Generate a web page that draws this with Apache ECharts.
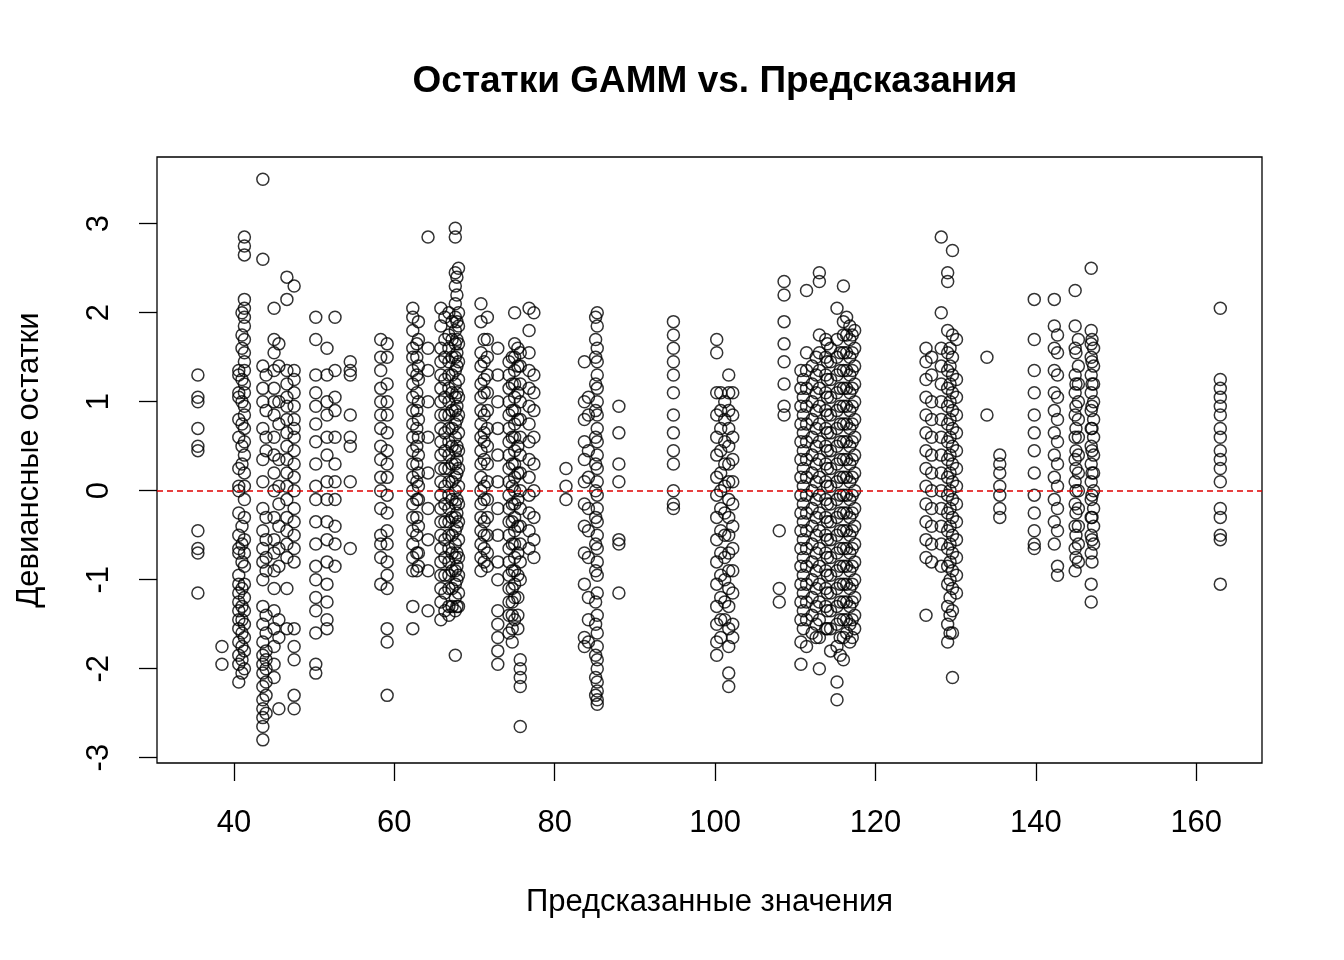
<!DOCTYPE html>
<html><head><meta charset="utf-8">
<script src="https://cdn.jsdelivr.net/npm/echarts@6/dist/echarts.min.js"></script>
<style>html,body{margin:0;padding:0;background:#fff}#c{width:1344px;height:960px}</style>
</head><body><div id="c"></div>
<script>
const titleText = 'Остатки GAMM vs. Предсказания';
const xName = 'Предсказанные значения';
const yName = 'Девиансные остатки';
const xTicks = [40, 60, 80, 100, 120, 140, 160];
const yTicks = [-3, -2, -1, 0, 1, 2, 3];
// fitted value of each column of points
const colX = [35.5, 38.5, 40.6, 41.3, 43.6, 45.0, 45.6, 46.6, 47.5, 50.2, 51.6, 52.6, 54.5, 58.3, 59.1, 62.3, 62.8, 64.2, 65.8, 66.8, 67.6, 68.0,
  70.8, 71.6, 72.9, 74.3, 75.0, 75.7, 76.8, 77.4, 81.4, 83.7, 84.2, 85.3, 88.0, 94.8, 100.2, 100.7, 101.7, 102.2,
  108.0, 108.6, 110.7, 111.4, 112.1, 113.0, 113.8, 114.4, 115.2, 116.0, 116.8, 117.4,
  126.3, 127.0, 128.2, 129.0, 129.6, 130.1, 133.9, 135.5, 139.8, 142.3, 142.7, 144.9, 145.3, 146.9, 147.2, 163.0,
  41.0, 44.0, 63.0, 66.3, 67.2, 67.8, 71.2, 74.7, 75.4, 85.1, 101.2, 111.0, 112.6, 114.0, 115.6, 116.4, 117.1, 129.3, 145.0, 147.0];
// residuals in each column
const colY = [
  [1.3, 1.05, 1.0, 0.7, 0.5, 0.45, -0.45, -0.65, -0.7, -1.15],
  [-1.75, -1.95],
  [1.35, 1.3, 1.1, 1.05, 0.8, 0.6, 0.25, 0.05, 0.0, -0.25, -0.5, -0.65, -0.7, -0.95, -1.05, -1.15, -1.25, -1.35, -1.45, -1.55, -1.7, -1.85, -1.95, -2.15],
  [2.85, 2.75, 2.65, 2.15, 2.05, 1.95, 1.85, 1.7, 1.55, 1.45, 1.35, 1.2, 1.1, 0.95, 0.85, 0.7, 0.55, 0.4, 0.2, 0.05, -0.1, -0.3, -0.55, -0.7, -0.85, -1.05, -1.2, -1.35, -1.5, -1.65, -1.8, -2.0],
  [3.5, 2.6, 1.4, 1.15, 1.0, 0.7, 0.35, 0.1, -0.2, -0.45, -0.65, -0.8, -1.0, -1.3, -1.5, -1.7, -1.85, -1.95, -2.05, -2.2, -2.35, -2.45, -2.55, -2.65, -2.8],
  [2.05, 1.7, 1.55, 1.35, 1.15, 1.0, 0.85, 0.6, 0.4, 0.2, 0.0, -0.3, -0.55, -0.7, -0.9, -1.1, -1.35, -1.55, -1.75, -1.95, -2.1],
  [1.65, 1.4, 1.0, 0.75, 0.35, 0.05, -0.15, -0.4, -0.65, -0.85, -1.45, -1.65, -2.45],
  [2.4, 2.15, 1.35, 1.2, 1.05, 0.95, 0.8, 0.65, 0.5, 0.35, 0.2, 0.05, -0.1, -0.3, -0.45, -0.6, -0.75, -1.1, -1.55],
  [2.3, 1.35, 1.25, 1.1, 0.95, 0.8, 0.7, 0.6, 0.45, 0.3, 0.15, 0.0, -0.2, -0.35, -0.5, -0.65, -0.8, -1.55, -1.75, -1.9, -2.3, -2.45],
  [1.95, 1.7, 1.3, 1.1, 0.95, 0.75, 0.55, 0.3, 0.05, -0.1, -0.35, -0.6, -0.85, -1.0, -1.2, -1.35, -1.6, -1.95, -2.05],
  [1.6, 1.3, 1.0, 0.85, 0.6, 0.4, 0.1, -0.1, -0.35, -0.55, -0.8, -1.05, -1.25, -1.45, -1.55],
  [1.95, 1.35, 1.05, 0.9, 0.6, 0.3, 0.1, -0.1, -0.4, -0.6, -0.85],
  [1.45, 1.35, 1.3, 0.85, 0.6, 0.5, 0.1, -0.65],
  [1.7, 1.5, 1.35, 1.15, 1.0, 0.85, 0.7, 0.5, 0.35, 0.15, 0.0, -0.2, -0.5, -0.6, -0.75, -1.05],
  [1.65, 1.5, 1.2, 1.0, 0.85, 0.65, 0.45, 0.3, 0.15, -0.05, -0.25, -0.45, -0.6, -0.8, -0.95, -1.1, -1.55, -1.7, -2.3],
  [2.05, 1.95, 1.8, 1.6, 1.5, 1.35, 1.2, 1.05, 0.9, 0.75, 0.6, 0.45, 0.3, 0.15, 0.0, -0.15, -0.3, -0.45, -0.6, -0.75, -0.9, -1.3, -1.55],
  [1.65, 1.5, 1.3, 1.1, 0.9, 0.7, 0.5, 0.3, 0.1, -0.1, -0.3, -0.5, -0.7, -0.9],
  [2.85, 1.6, 1.35, 1.0, 0.6, 0.2, -0.2, -0.55, -0.9, -1.35],
  [2.05, 1.85, 1.6, 1.45, 1.3, 1.15, 1.0, 0.85, 0.7, 0.55, 0.4, 0.25, 0.1, -0.05, -0.2, -0.35, -0.5, -0.65, -0.8, -0.95, -1.1, -1.25, -1.45],
  [2.0, 1.75, 1.6, 1.45, 1.3, 1.15, 1.0, 0.85, 0.7, 0.55, 0.4, 0.25, 0.1, -0.05, -0.2, -0.35, -0.5, -0.65, -0.8, -0.95, -1.1, -1.3, -1.4],
  [2.95, 2.85, 2.45, 2.3, 2.1, 1.95, 1.8, 1.65, 1.5, 1.35, 1.2, 1.05, 0.9, 0.75, 0.6, 0.45, 0.3, 0.15, 0.0, -0.15, -0.3, -0.45, -0.6, -0.75, -0.9, -1.05, -1.2, -1.35, -1.85],
  [2.5, 2.0, 1.85, 1.65, 1.45, 1.25, 1.05, 0.85, 0.65, 0.45, 0.25, 0.05, -0.15, -0.35, -0.55, -0.75, -0.95, -1.15, -1.3],
  [2.1, 1.9, 1.55, 1.4, 1.2, 1.05, 0.9, 0.75, 0.6, 0.45, 0.3, 0.15, 0.0, -0.15, -0.3, -0.45, -0.6, -0.75, -0.9],
  [1.95, 1.7, 1.5, 1.3, 1.1, 0.9, 0.7, 0.5, 0.3, 0.1, -0.1, -0.3, -0.5, -0.7, -0.85],
  [1.6, 1.3, 1.0, 0.7, 0.4, 0.1, -0.2, -0.5, -0.8, -1.0, -1.35, -1.5, -1.65, -1.8, -1.95],
  [1.45, 1.3, 1.15, 1.0, 0.85, 0.7, 0.55, 0.4, 0.25, 0.1, -0.05, -0.2, -0.35, -0.5, -0.65, -0.8, -0.95, -1.1, -1.25, -1.4, -1.6],
  [2.0, 1.65, 1.5, 1.35, 1.2, 1.05, 0.9, 0.75, 0.6, 0.45, 0.3, 0.15, 0.0, -0.15, -0.3, -0.45, -0.6, -0.75, -0.9, -1.05, -1.2, -1.45],
  [1.55, 1.4, 1.2, 1.0, 0.8, 0.6, 0.4, 0.2, 0.0, -0.2, -0.4, -0.6, -0.8, -1.0, -1.9, -2.0, -2.1, -2.2, -2.65],
  [2.05, 1.8, 1.55, 1.35, 1.15, 0.95, 0.75, 0.55, 0.35, 0.15, -0.05, -0.25, -0.45, -0.65],
  [2.0, 1.3, 1.1, 0.9, 0.6, 0.3, 0.0, -0.3, -0.55, -0.75],
  [0.25, 0.05, -0.1],
  [1.45, 1.0, 0.8, 0.55, 0.35, 0.1, -0.15, -0.4, -0.7, -1.05, -1.65, -1.75],
  [1.05, 0.85, 0.45, 0.15, -0.2, -0.45, -0.75, -1.2, -1.45, -1.7],
  [2.0, 1.85, 1.6, 1.45, 1.3, 1.15, 1.0, 0.85, 0.7, 0.55, 0.4, 0.25, 0.1, -0.05, -0.2, -0.35, -0.5, -0.65, -0.8, -0.95, -1.15, -1.4, -1.6, -1.75, -1.9, -2.0, -2.15, -2.25, -2.35, -2.4],
  [0.95, 0.65, 0.3, 0.1, -0.55, -0.6, -1.15],
  [1.9, 1.75, 1.6, 1.45, 1.3, 1.1, 0.85, 0.65, 0.45, 0.3, 0.0, -0.15, -0.2],
  [1.7, 1.55, 1.1, 0.85, 0.6, 0.4, 0.15, -0.05, -0.3, -0.55, -0.8, -1.05, -1.3, -1.5, -1.7, -1.85],
  [1.1, 0.9, 0.7, 0.45, 0.2, 0.0, -0.2, -0.45, -0.7, -0.95, -1.2, -1.45, -1.65],
  [1.3, 1.1, 0.9, 0.7, 0.5, 0.3, 0.1, -0.1, -0.3, -0.5, -0.7, -0.9, -1.1, -1.3, -1.55, -1.75, -2.05, -2.2],
  [1.1, 0.85, 0.6, 0.35, 0.1, -0.15, -0.4, -0.65, -0.9, -1.15, -1.5, -1.65],
  [-0.45, -1.1, -1.25],
  [2.35, 2.2, 1.9, 1.65, 1.45, 1.2, 0.95, 0.85],
  [1.35, 1.15, 0.95, 0.75, 0.55, 0.35, 0.15, -0.05, -0.25, -0.45, -0.65, -0.85, -1.05, -1.25, -1.45, -1.7, -1.95],
  [2.25, 1.55, 1.35, 1.15, 0.95, 0.75, 0.55, 0.35, 0.15, -0.05, -0.25, -0.45, -0.65, -0.85, -1.05, -1.25, -1.45, -1.75],
  [1.4, 1.2, 1.0, 0.8, 0.6, 0.4, 0.2, 0.0, -0.2, -0.4, -0.6, -0.8, -1.0, -1.2, -1.4, -1.6],
  [2.45, 2.35, 1.75, 1.55, 1.35, 1.15, 0.95, 0.75, 0.55, 0.35, 0.15, -0.05, -0.25, -0.45, -0.65, -0.85, -1.05, -1.25, -1.45, -1.65, -2.0],
  [1.7, 1.5, 1.3, 1.1, 0.9, 0.7, 0.5, 0.3, 0.1, -0.1, -0.3, -0.5, -0.7, -0.9, -1.1, -1.3, -1.55],
  [1.6, 1.45, 1.25, 1.05, 0.85, 0.65, 0.45, 0.25, 0.05, -0.15, -0.35, -0.55, -0.75, -0.95, -1.15, -1.35, -1.55, -1.8],
  [2.05, 1.7, 1.5, 1.3, 1.1, 0.9, 0.7, 0.5, 0.3, 0.1, -0.1, -0.3, -0.5, -0.7, -0.9, -1.1, -1.3, -1.5, -1.75, -2.15, -2.35],
  [2.3, 1.9, 1.75, 1.55, 1.35, 1.15, 0.95, 0.75, 0.55, 0.35, 0.15, -0.05, -0.25, -0.45, -0.65, -0.85, -1.05, -1.25, -1.45, -1.65, -1.9],
  [1.85, 1.7, 1.5, 1.3, 1.1, 0.9, 0.7, 0.5, 0.3, 0.1, -0.1, -0.3, -0.5, -0.7, -0.9, -1.1, -1.3, -1.5, -1.7],
  [1.8, 1.6, 1.4, 1.2, 1.0, 0.8, 0.6, 0.4, 0.2, 0.0, -0.2, -0.4, -0.6, -0.8, -1.0, -1.2, -1.4, -1.55],
  [1.6, 1.45, 1.25, 1.05, 0.85, 0.65, 0.45, 0.25, 0.05, -0.15, -0.35, -0.55, -0.75, -1.4],
  [1.5, 1.3, 1.0, 0.8, 0.6, 0.4, 0.2, 0.0, -0.2, -0.4, -0.6, -0.8],
  [2.85, 2.0, 1.6, 1.4, 1.2, 1.0, 0.8, 0.6, 0.4, 0.2, 0.0, -0.2, -0.4, -0.6, -0.85],
  [2.45, 2.35, 1.8, 1.55, 1.35, 1.15, 0.95, 0.75, 0.55, 0.35, 0.15, -0.05, -0.25, -0.45, -0.65, -0.85, -1.05, -1.3, -1.5, -1.7],
  [2.7, 1.75, 1.5, 1.3, 1.1, 0.9, 0.7, 0.5, 0.3, 0.1, -0.1, -0.3, -0.5, -0.7, -0.9, -1.1, -1.35, -1.6, -2.1],
  [1.7, 1.25, 1.05, 0.85, 0.65, 0.45, 0.25, 0.05, -0.15, -0.35, -0.55, -0.75, -0.95, -1.15],
  [1.5, 0.85],
  [0.4, 0.3, 0.2, 0.05, -0.05, -0.2, -0.3],
  [2.15, 1.7, 1.35, 1.1, 0.85, 0.65, 0.45, 0.2, -0.05, -0.25, -0.45, -0.6, -0.65],
  [2.15, 1.85, 1.6, 1.35, 1.1, 0.9, 0.65, 0.4, 0.15, -0.1, -0.35, -0.6],
  [1.75, 1.55, 1.3, 1.05, 0.8, 0.55, 0.3, 0.05, -0.2, -0.45, -0.85, -0.95],
  [2.25, 1.85, 1.6, 1.3, 1.1, 0.85, 0.6, 0.35, 0.1, -0.15, -0.4, -0.65, -0.9],
  [1.7, 1.4, 1.2, 1.0, 0.8, 0.6, 0.4, 0.2, 0.0, -0.2, -0.4, -0.6, -0.8],
  [2.5, 1.8, 1.65, 1.5, 1.3, 1.1, 0.9, 0.7, 0.5, 0.3, 0.1, -0.1, -0.3, -0.5, -0.7, -1.05, -1.25],
  [1.6, 1.4, 1.2, 1.0, 0.8, 0.6, 0.4, 0.2, 0.0, -0.2, -0.4, -0.6],
  [2.05, 1.25, 1.15, 1.05, 0.95, 0.85, 0.7, 0.6, 0.45, 0.35, 0.25, 0.1, -0.2, -0.3, -0.5, -0.55, -1.05],
  // extra points in the denser columns
  [2.0, 1.75, 1.6, 1.25, 1.0, 0.75, 0.5, 0.3, -0.4, -0.6, -0.8, -1.1, -1.3, -1.45, -1.6, -1.75, -1.9, -2.05],
  [1.3, 0.9, 0.6, 0.45, -0.3, -0.55, -0.75, -0.9, -1.4, -1.6, -1.8, -1.9, -2.0, -2.15, -2.3, -2.5],
  [1.9, 1.7, 1.4, 1.25, 1.0, 0.8, 0.6, 0.4, 0.2, 0.05, -0.1, -0.4, -0.7, -0.85],
  [1.95, 1.7, 1.5, 1.25, 1.05, 0.85, 0.65, 0.45, 0.25, 0.05, -0.15, -0.35, -0.55, -0.75, -0.95, -1.15, -1.35],
  [1.9, 1.7, 1.5, 1.3, 1.1, 0.9, 0.7, 0.5, 0.3, 0.1, -0.1, -0.3, -0.5, -0.7, -0.9, -1.1, -1.3],
  [2.4, 2.2, 1.9, 1.7, 1.55, 1.4, 1.1, 0.95, 0.8, 0.5, 0.35, 0.2, -0.1, -0.25, -0.4, -0.7, -0.85, -1.0, -1.3],
  [1.7, 1.45, 1.25, 1.1, 0.85, 0.65, 0.55, 0.35, 0.05, -0.1, -0.35, -0.5, -0.65, -0.8],
  [1.5, 1.2, 0.9, 0.6, 0.3, 0.05, -0.15, -0.35, -0.6, -0.9, -1.1, -1.25, -1.4, -1.55, -1.7],
  [1.6, 1.4, 1.1, 0.8, 0.5, 0.2, -0.1, -0.4, -0.7, -0.95, -1.2, -1.4, -1.55],
  [1.95, 1.7, 1.5, 1.2, 0.9, 0.6, 0.3, 0.0, -0.3, -0.6, -0.9, -1.25, -1.5, -1.85, -2.1, -2.3],
  [1.0, 0.8, 0.55, 0.3, 0.05, -0.25, -0.5, -0.75, -1.0, -1.25, -1.45],
  [1.25, 1.05, 0.85, 0.65, 0.45, 0.25, 0.05, -0.15, -0.35, -0.55, -0.75, -0.95, -1.15, -1.35, -1.55],
  [1.5, 1.3, 1.1, 0.9, 0.7, 0.5, 0.3, 0.1, -0.1, -0.3, -0.5, -0.7, -0.9, -1.1, -1.3, -1.5, -1.65],
  [1.65, 1.45, 1.25, 1.05, 0.85, 0.65, 0.45, 0.25, 0.05, -0.15, -0.35, -0.55, -0.75, -0.95, -1.15, -1.35, -1.55],
  [1.55, 1.35, 1.15, 0.95, 0.75, 0.55, 0.35, 0.15, -0.05, -0.25, -0.45, -0.65, -0.85, -1.05, -1.25, -1.45, -1.65, -1.85],
  [1.95, 1.75, 1.55, 1.35, 1.15, 0.95, 0.75, 0.55, 0.35, 0.15, -0.05, -0.25, -0.45, -0.65, -0.85, -1.05, -1.25, -1.45, -1.6],
  [1.75, 1.55, 1.35, 1.15, 0.95, 0.75, 0.55, 0.35, 0.15, -0.05, -0.25, -0.45, -0.65, -0.85, -1.05, -1.25, -1.45, -1.65],
  [1.6, 1.4, 1.2, 1.0, 0.8, 0.6, 0.4, 0.2, 0.0, -0.2, -0.4, -0.6, -0.8, -1.0, -1.2, -1.4, -1.6],
  [1.55, 1.2, 0.95, 0.7, 0.45, 0.25, 0.0, -0.25, -0.5, -0.75],
  [1.7, 1.45, 1.2, 0.95, 0.7, 0.45, 0.2, -0.05, -0.3, -0.55, -0.8]
];
const pts = [];
colX.forEach((x, i) => colY[i].forEach(y => pts.push([x, y])));
const chart = echarts.init(document.getElementById('c'), null, {renderer: 'canvas'});
const F = 'Arial, "Liberation Sans", sans-serif';
chart.setOption({
  animation: false,
  backgroundColor: '#fff',
  title: {text: titleText, left: 710, top: 58, textAlign: 'center',
    textStyle: {fontFamily: F, fontSize: 37, fontWeight: 'bold', color: '#000'}},
  grid: {left: 157, top: 157, width: 1105, height: 606, show: true, borderColor: '#000', borderWidth: 1.3, backgroundColor: 'transparent'},
  xAxis: {type: 'value', min: 30.4, max: 168.2, name: xName, nameLocation: 'middle', nameGap: 124,
    nameTextStyle: {fontFamily: F, fontSize: 31, color: '#000'},
    axisLine: {show: false, onZero: false}, splitLine: {show: false},
    axisTick: {show: true, length: 18, lineStyle: {color: '#000', width: 1.3}, customValues: xTicks},
    axisLabel: {fontFamily: F, fontSize: 31, color: '#000', margin: 45, customValues: xTicks, showMinLabel: true, showMaxLabel: true}},
  yAxis: {type: 'value', min: -3.06, max: 3.75, name: yName, nameLocation: 'middle', nameGap: 112, nameRotate: 90,
    nameTextStyle: {fontFamily: F, fontSize: 31, color: '#000'},
    axisLine: {show: false, onZero: false}, splitLine: {show: false},
    axisTick: {show: true, length: 18, lineStyle: {color: '#000', width: 1.3}, customValues: yTicks},
    axisLabel: {fontFamily: F, fontSize: 31, color: '#000', margin: 42, rotate: 90, customValues: yTicks, showMinLabel: true, showMaxLabel: true}},
  series: [{
    type: 'scatter', data: pts, symbol: 'circle', symbolSize: 12,
    itemStyle: {color: 'rgba(0,0,0,0)', borderColor: '#000', borderWidth: 1.5},
    markLine: {silent: true, symbol: 'none', label: {show: false},
      lineStyle: {color: '#e00000', type: [6, 4], width: 1.5}, data: [{yAxis: 0}]}
  }]
});
</script></body></html>
